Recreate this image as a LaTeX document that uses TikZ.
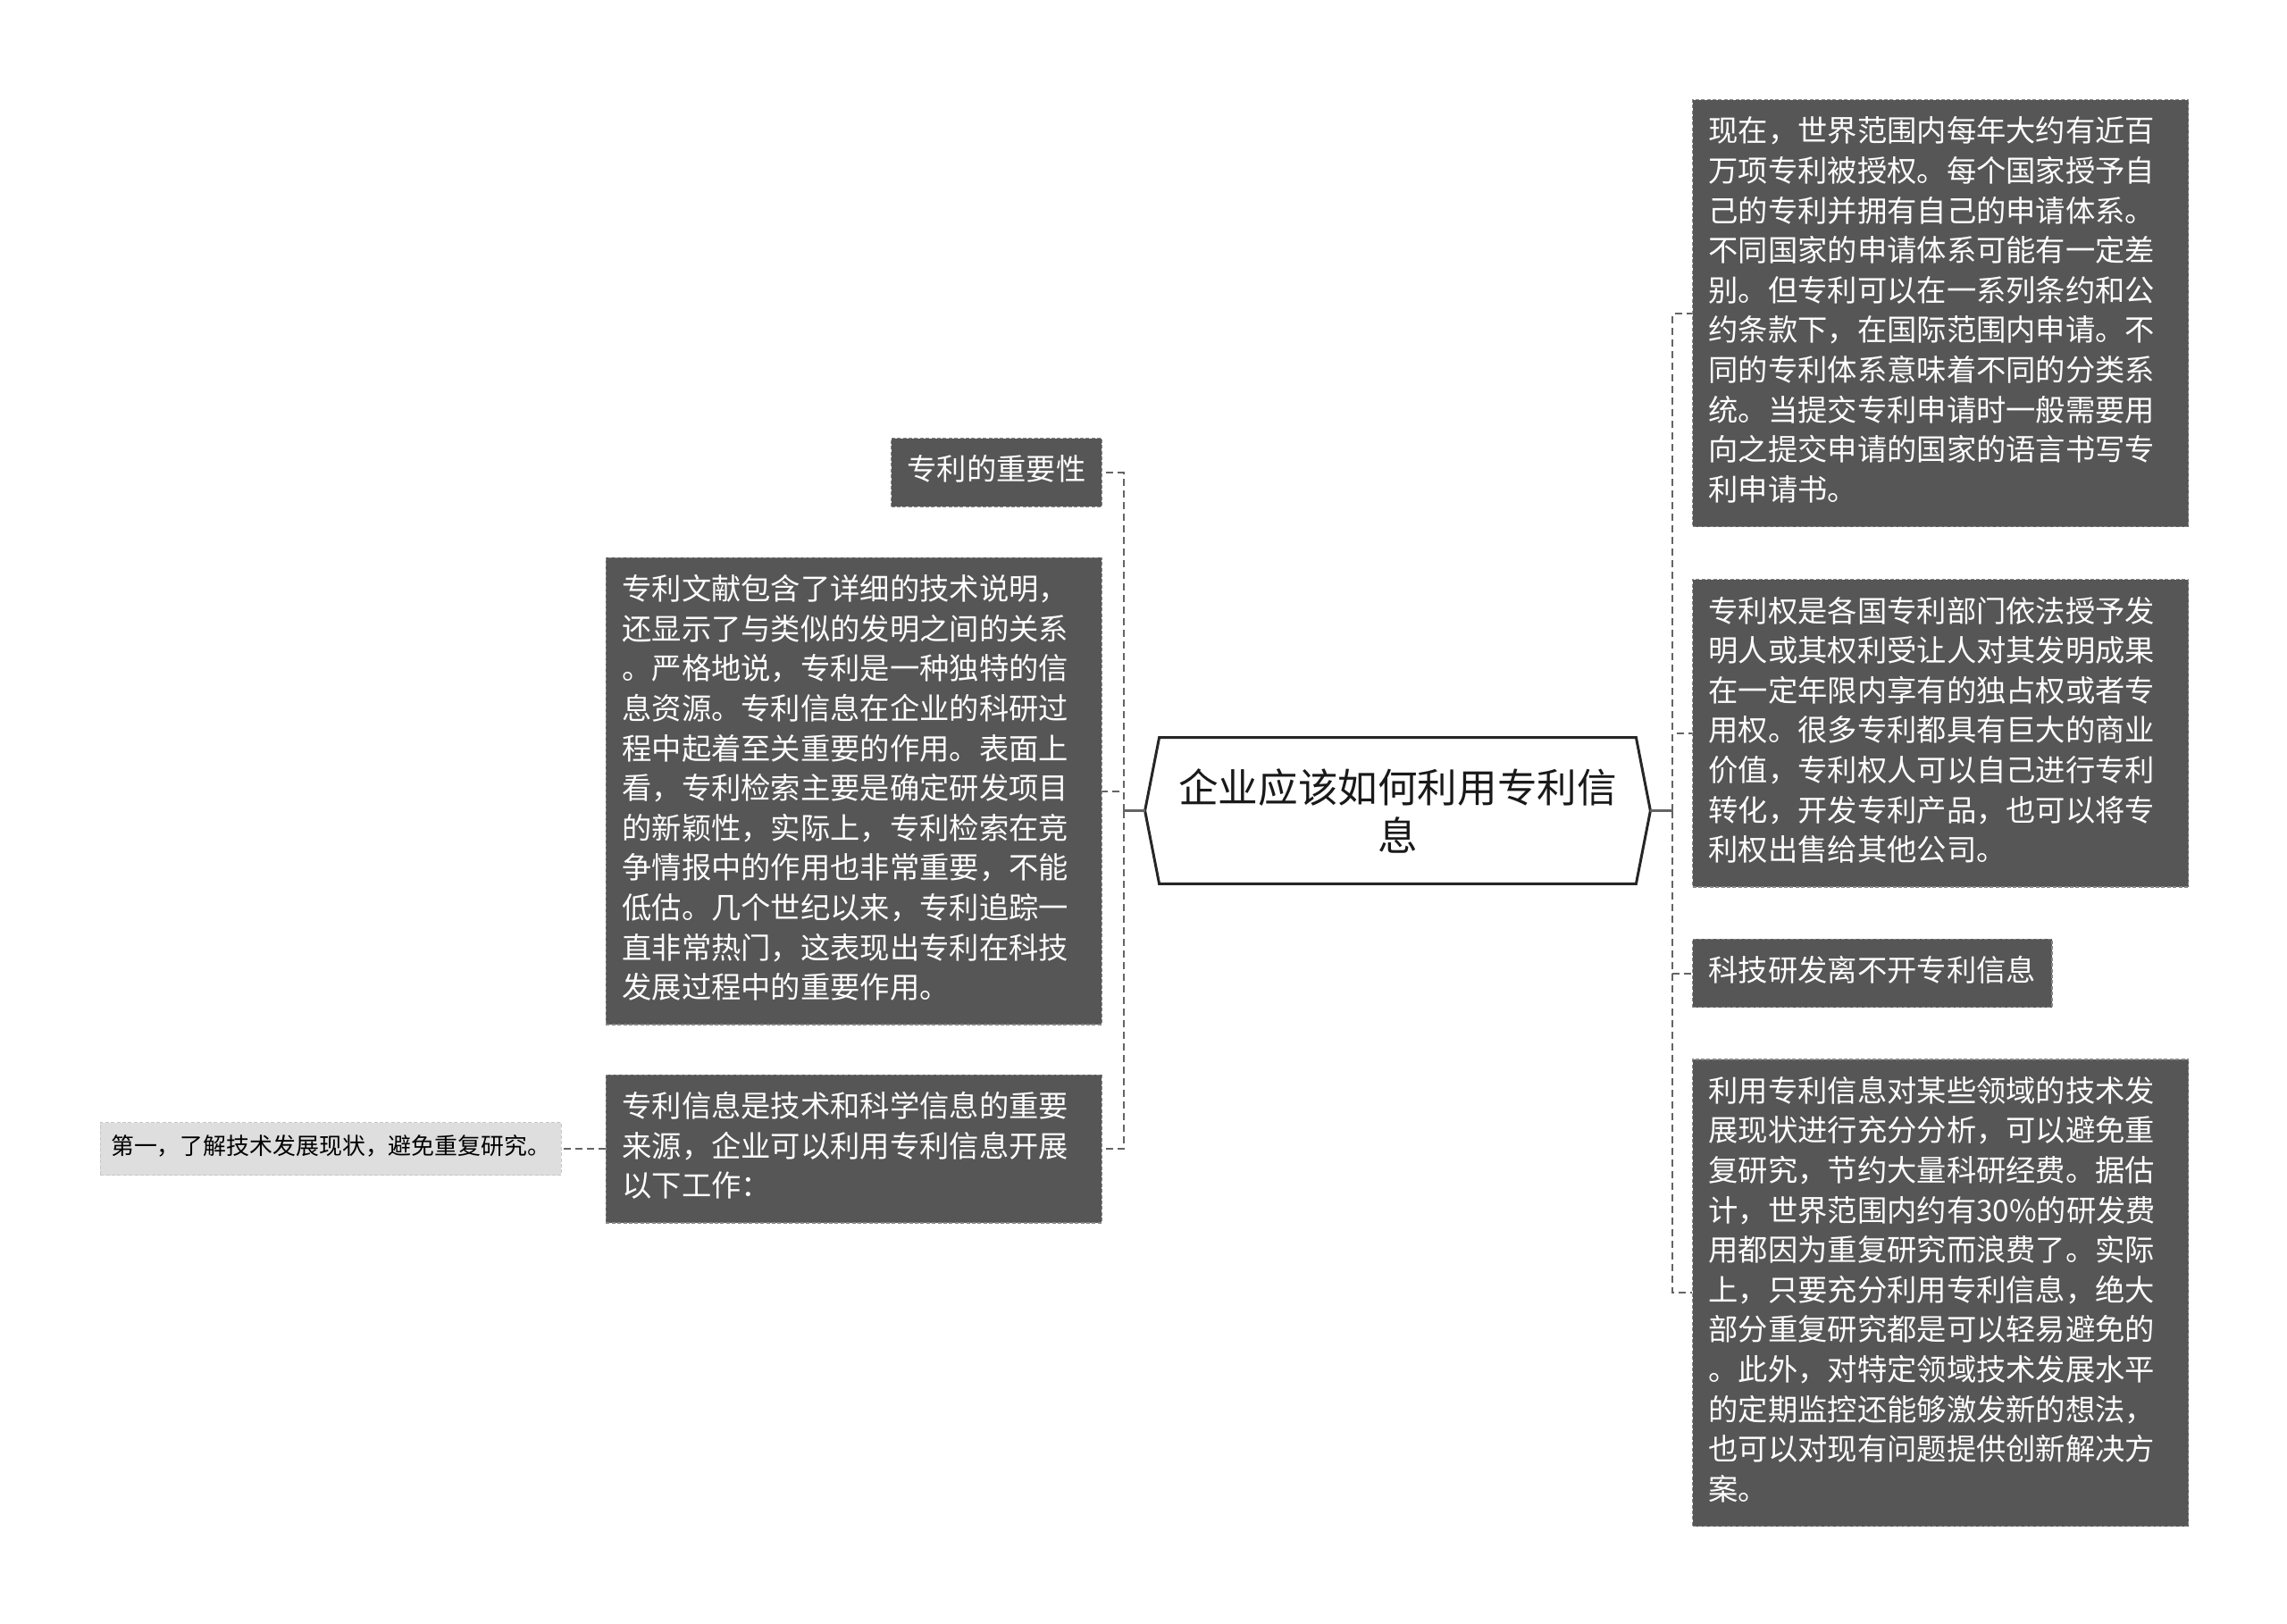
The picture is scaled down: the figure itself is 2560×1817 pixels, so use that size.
\documentclass[tikz,border=0pt]{standalone}
\usepackage{fontspec}
\setmainfont{Noto Sans CJK SC}
\usetikzlibrary{positioning,backgrounds}
\definecolor{mdark}{RGB}{86,86,86}
\definecolor{mlight}{RGB}{222,222,222}
\definecolor{mline}{RGB}{100,100,100}
\definecolor{medge}{RGB}{135,135,135}
\begin{document}
\begin{tikzpicture}[x=0.5pt,y=-0.5pt,
  infobox/.style={rectangle,fill=mdark,draw=medge,line width=0.6pt,
    dash pattern=on 2pt off 1.2pt,text=white,align=left,
    font=\fontsize{16.65pt}{22.3pt}\selectfont,inner xsep=9pt,inner ysep=8pt,
    execute at begin node=\strut,execute at end node=\strut},
  widebox/.style={infobox,text width=259.5pt},
  subbox/.style={infobox,fill=mlight,draw=black!22,text=black,
    font=\fontsize{12.95pt}{17pt}\selectfont,inner xsep=6pt,inner ysep=6.25pt},
  titlebox/.style={rectangle,minimum width=282.5pt,minimum height=81.5pt,
    align=center,font=\fontsize{22.3pt}{27pt}\selectfont,text=black!90},
  branch/.style={draw=mline,line width=1pt,dash pattern=on 4pt off 2.5pt},
  stub/.style={draw=mline,line width=1.3pt}]
  \useasboundingbox (0,0) rectangle (2560,1817);

  \node[titlebox] (title) at (1564.5,907.5) {企业应该如何利用专利信\\息};
  \begin{scope}[on background layer]
  \draw[line width=1.5pt,draw=black!85,fill=white]
    ([xshift=8pt]title.north west) -- ([xshift=-8pt]title.north east)
    -- (title.east) -- ([xshift=-8pt]title.south east)
    -- ([xshift=8pt]title.south west) -- (title.west) -- cycle;
  \end{scope}

  \node[infobox,anchor=north east] (l1) at (1234,490) {专利的重要性};
  \node[widebox,below left=28pt and 0pt of l1.south east] (l2)
  {专利文献包含了详细的技术说明，\\还显示了与类似的发明之间的关系\\。严格地说，专利是一种独特的信\\息资源。专利信息在企业的科研过\\程中起着至关重要的作用。表面上\\看，专利检索主要是确定研发项目\\的新颖性，实际上，专利检索在竞\\争情报中的作用也非常重要，不能\\低估。几个世纪以来，专利追踪一\\直非常热门，这表现出专利在科技\\发展过程中的重要作用。};
  \node[widebox,below left=27.5pt and 0pt of l2.south east] (l3)
  {专利信息是技术和科学信息的重要\\来源，企业可以利用专利信息开展\\以下工作：};
  \node[subbox,left=24.5pt of l3] (l3a) {第一，了解技术发展现状，避免重复研究。};

  \node[widebox,anchor=north west] (r1) at (1894,111)
  {现在，世界范围内每年大约有近百\\万项专利被授权。每个国家授予自\\己的专利并拥有自己的申请体系。\\不同国家的申请体系可能有一定差\\别。但专利可以在一系列条约和公\\约条款下，在国际范围内申请。不\\同的专利体系意味着不同的分类系\\统。当提交专利申请时一般需要用\\向之提交申请的国家的语言书写专\\利申请书。};
  \node[widebox,below right=29pt and 0pt of r1.south west] (r2)
  {专利权是各国专利部门依法授予发\\明人或其权利受让人对其发明成果\\在一定年限内享有的独占权或者专\\用权。很多专利都具有巨大的商业\\价值，专利权人可以自己进行专利\\转化，开发专利产品，也可以将专\\利权出售给其他公司。};
  \node[infobox,below right=28.5pt and 0pt of r2.south west] (r3) {科技研发离不开专利信息};
  \node[widebox,below right=28.5pt and 0pt of r3.south west] (r4)
  {利用专利信息对某些领域的技术发\\展现状进行充分分析，可以避免重\\复研究，节约大量科研经费。据估\\计，世界范围内约有30\%的研发费\\用都因为重复研究而浪费了。实际\\上，只要充分利用专利信息，绝大\\部分重复研究都是可以轻易避免的\\。此外，对特定领域技术发展水平\\的定期监控还能够激发新的想法，\\也可以对现有问题提供创新解决方\\案。};

  \coordinate[left=12pt of title.west] (ljoint);
  \coordinate[right=12.5pt of title.east] (rjoint);
  \draw[stub] (title.west) -- (ljoint);
  \draw[stub] (title.east) -- (rjoint);
  \foreach \n in {l1,l2,l3}
    \draw[branch] (ljoint) |- (\n.east);
  \foreach \n in {r1,r2,r3,r4}
    \draw[branch] (rjoint) |- (\n.west);
  \draw[branch] (l3) -- (l3a);
\end{tikzpicture}
\end{document}
